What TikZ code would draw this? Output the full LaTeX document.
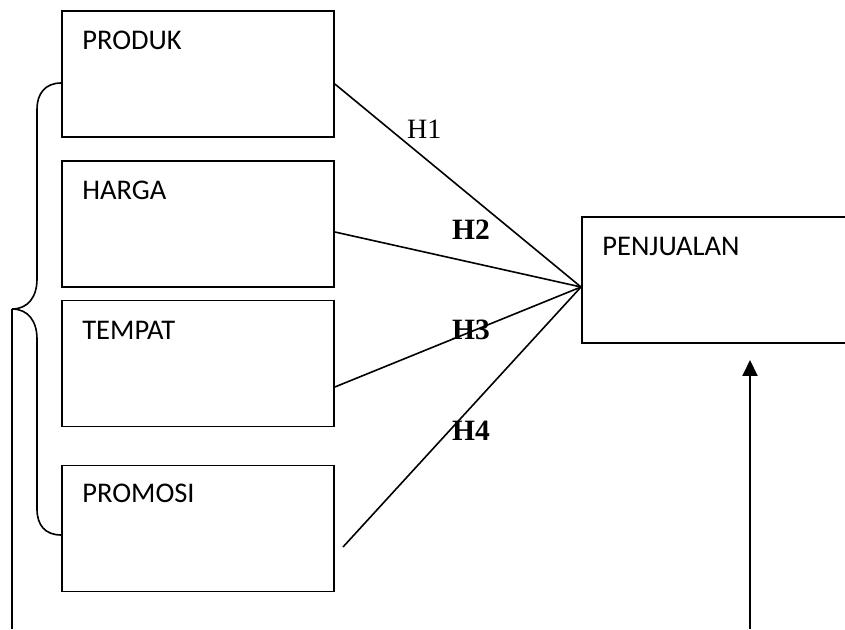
\documentclass[tikz,border=0pt]{standalone}
\usepackage{fontspec}
\newfontfamily\boxfont{Carlito}
\newfontfamily\hfont{Liberation Serif}
\usetikzlibrary{calc,arrows.meta}
\begin{document}
\begin{tikzpicture}[x=1pt,y=1pt,
  varbox/.style={draw,line width=1.7pt,inner sep=0pt,minimum width=272pt,minimum height=126pt},
  boxtext/.style={anchor=base west,inner sep=0pt,font=\boxfont\fontsize{28.5}{32}\selectfont},
  hlabel/.style={anchor=base west,inner sep=0pt,font=\hfont\fontsize{28}{32}\selectfont},
  hbold/.style={hlabel,font=\hfont\bfseries\fontsize{29.5}{32}\selectfont},
  link/.style={line width=1.6pt},
  arrowline/.style={line width=2pt,-{Triangle[length=16pt,width=15pt]}}]
\useasboundingbox (0,0) rectangle (845,629);
\clip (0,0) rectangle (845,629);
% boxes
\node[varbox] (produk) at (198,555) {};
\node[varbox] (harga) at (198,405) {};
\node[varbox] (tempat) at (198,265.5) {};
\node[varbox] (promosi) at (198,100.5) {};
\node[varbox,minimum width=300pt] (penjualan) at (732,349) {};
% texts
\node[boxtext] at ($(produk.north west)+(21,-39)$) {PRODUK};
\node[boxtext] at ($(harga.north west)+(21,-39)$) {HARGA};
\node[boxtext] at ($(tempat.north west)+(21,-40)$) {TEMPAT};
\node[boxtext] at ($(promosi.north west)+(21,-38)$) {PROMOSI};
\node[boxtext] at ($(penjualan.north west)+(21,-39)$) {PENJUALAN};
% hub and links
\coordinate (hub) at (581,342);
\coordinate (h4end) at (343,82);
\draw[link] ($(produk.east)+(0,-10)$) -- (hub);
\draw[link] ($(harga.east)+(0,-8)$) -- (hub);
\draw[link] ($(tempat.east)+(0,-23.5)$) -- (hub);
\draw[link] (h4end) -- (hub);
% labels
\node[hlabel] at (407,490) {H1};
\node[hbold] at (452,389) {H2};
\node[hbold] at (452,289) {H3};
\node[hbold] at (452,188) {H4};
% brace
\coordinate (tip) at (12,320);
\draw[link] ($(produk.west)+(0,-9)$) .. controls (45,546) and (37,535) .. (37,520)
  -- (37,350) .. controls (37,332) and (28,320) .. (tip)
  .. controls (28,320) and (37,308) .. (37,290)
  -- (37,120) .. controls (37,104) and (45,94) .. ($(promosi.west)+(0,-6.5)$);
\coordinate (tipbottom) at (12,0);
\draw[link] (tip) -- (tipbottom);
% arrow
\coordinate (arrstart) at (750,0);
\coordinate (arrend) at (750,269);
\draw[arrowline] (arrstart) -- (arrend);
\end{tikzpicture}
\end{document}
